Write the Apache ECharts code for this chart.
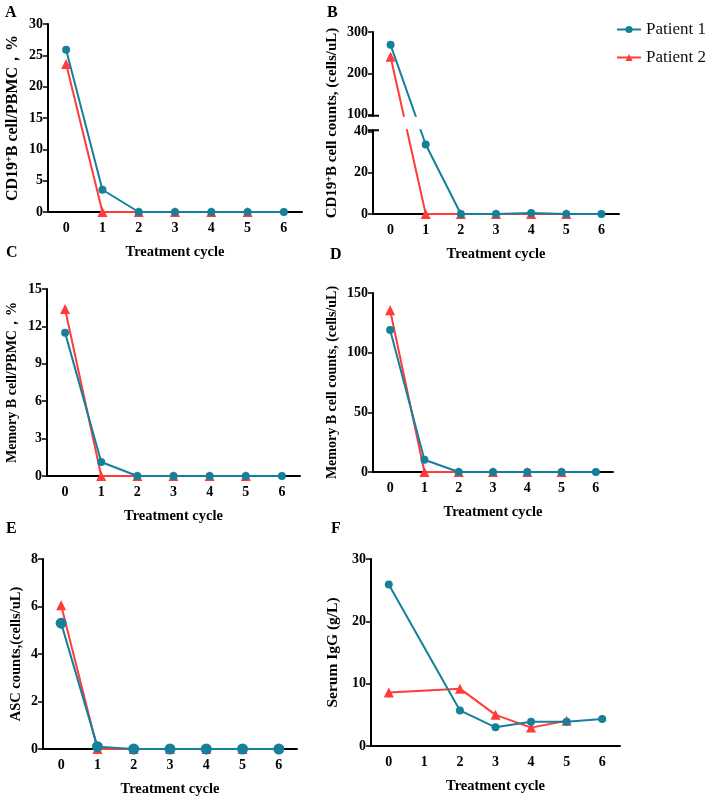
<!DOCTYPE html>
<html>
<head>
<meta charset="utf-8">
<script src="https://cdn.jsdelivr.net/npm/echarts@6/dist/echarts.min.js"></script>
<style>
  html, body { margin: 0; padding: 0; background: #fff; }
  #chart { width: 712px; height: 801px; }
</style>
</head>
<body>
<div id="chart"></div>
<script>
const cycles = ['0', '1', '2', '3', '4', '5', '6'];
const cd19Pct1 = [25.9, 3.55, 0, 0, 0, 0, 0];
const cd19Pct2 = [23.6, 0, 0, 0, 0, 0];
const cd19Count1 = [269, 33.6, 0, 0, 0.5, 0, 0];
const cd19Count2 = [240, 0, 0, 0, 0, 0];
const memPct1 = [11.5, 1.12, 0, 0, 0, 0, 0];
const memPct2 = [13.4, 0, 0, 0, 0, 0];
const memCount1 = [119, 10.3, 0, 0, 0, 0, 0];
const memCount2 = [135.5, 0, 0, 0, 0, 0];
const asc1 = [5.3, 0.1, 0, 0, 0, 0, 0];
const asc2 = [6.05, 0, 0, 0, 0, 0];
const igg1 = [25.9, null, 5.7, 3.0, 3.9, 3.9, 4.35];
const igg2 = [8.6, null, 9.2, 5.0, 2.95, 4.05];

const TEAL = '#14809a';
const RED = '#ff3b3b';
const font = '"Liberation Serif", "Times New Roman", serif';

// panel B has a broken axis: 0-40 at the bottom, 100-300 on top (5x compressed)
const breakLow = 40, breakHigh = 100, breakGap = 8, upperScale = 5;
function toDisp(v) {
  if (v == null) return null;
  return v <= breakLow ? v : breakLow + breakGap + (v - breakHigh) / upperScale;
}
function fromDisp(d) {
  return d <= breakLow ? d : Math.round((d - breakLow - breakGap) * upperScale + breakHigh);
}
const bTicks = [0, 20, 40, toDisp(100), toDisp(200), toDisp(300)];

const grids = [
  { left: 48, top: 24, width: 254, height: 188 },
  { left: 373, top: 32, width: 246, height: 182 },
  { left: 47, top: 289, width: 253, height: 187 },
  { left: 373, top: 293, width: 240, height: 179 },
  { left: 43, top: 559, width: 254, height: 190 },
  { left: 371, top: 559, width: 249, height: 187 }
];

const boldText = { color: '#000', fontWeight: 'bold', fontFamily: font };

function xAxis(i) {
  return {
    type: 'category',
    gridIndex: i,
    data: cycles,
    boundaryGap: true,
    axisLine: { lineStyle: { color: '#000', width: 2 } },
    axisTick: { alignWithLabel: true, length: 4, lineStyle: { color: '#000', width: 1.5 } },
    axisLabel: Object.assign({ fontSize: 14, margin: 9 }, boldText),
    name: 'Treatment cycle',
    nameLocation: 'middle',
    nameGap: 33,
    nameTextStyle: Object.assign({ fontSize: 14.5 }, boldText)
  };
}

function yAxis(i, name, max, interval, nameGap, nameSize, extra) {
  return Object.assign({
    type: 'value',
    gridIndex: i,
    min: 0,
    max: max,
    interval: interval,
    splitLine: { show: false },
    axisLine: { show: true, lineStyle: { color: '#000', width: 2 } },
    axisTick: { show: true, length: 5, lineStyle: { color: '#000', width: 1.5 } },
    axisLabel: Object.assign({ fontSize: 14, margin: 5 }, boldText),
    name: name,
    nameLocation: 'middle',
    nameGap: nameGap,
    nameTextStyle: Object.assign({
      fontSize: nameSize,
      rich: {
        sup: { fontSize: Math.round(nameSize * 0.65), fontWeight: 'bold', fontFamily: font, color: '#000', verticalAlign: 'top', padding: [0, 0, 7, 0] }
      }
    }, boldText)
  }, extra || {});
}

function pair(i, d1, d2, circleSize) {
  const base = { type: 'line', xAxisIndex: i, yAxisIndex: i, connectNulls: true, animation: false };
  return [
    Object.assign({}, base, {
      name: 'Patient 2', data: d2, symbol: 'triangle', symbolSize: 10,
      itemStyle: { color: RED }, lineStyle: { color: RED, width: 2 }
    }),
    Object.assign({}, base, {
      name: 'Patient 1', data: d1, symbol: 'circle', symbolSize: circleSize || 8,
      itemStyle: { color: TEAL }, lineStyle: { color: TEAL, width: 2 }
    })
  ];
}

const letters = [
  ['A', 5, 5], ['B', 327, 5], ['C', 6, 245], ['D', 330, 247], ['E', 6, 521], ['F', 331, 521]
];

const chart = echarts.init(document.getElementById('chart'));
chart.setOption({
  backgroundColor: '#fff',
  legend: {
    data: ['Patient 1', 'Patient 2'],
    orient: 'vertical',
    left: 611,
    top: 16,
    itemWidth: 24,
    itemHeight: 9,
    itemGap: 11,
    textStyle: { fontSize: 17, fontFamily: font, color: '#111' }
  },
  grid: grids,
  xAxis: [0, 1, 2, 3, 4, 5].map(xAxis),
  yAxis: [
    yAxis(0, 'CD19{sup|+}B cell/PBMC，%', 30, 5, 27, 16),
    yAxis(1, 'CD19{sup|+}B cell counts, (cells/uL)', toDisp(300), null, 32, 15, {
      interval: undefined,
      axisLabel: Object.assign({ fontSize: 14, margin: 5, customValues: bTicks, formatter: v => String(fromDisp(v)) }, boldText),
      axisTick: { show: true, length: 5, customValues: bTicks, lineStyle: { color: '#000', width: 1.5 } }
    }),
    yAxis(2, 'Memory B cell/PBMC，%', 15, 3, 28, 14),
    yAxis(3, 'Memory B cell counts, (cells/uL)', 150, 50, 34, 14),
    yAxis(4, 'ASC counts,(cells/uL)', 8, 2, 19, 14.5),
    yAxis(5, 'Serum IgG (g/L)', 30, 10, 30, 15.5)
  ],
  series: [].concat(
    pair(0, cd19Pct1, cd19Pct2),
    pair(1, cd19Count1.map(toDisp), cd19Count2.map(toDisp)),
    pair(2, memPct1, memPct2),
    pair(3, memCount1, memCount2),
    pair(4, asc1, asc2, 11),
    pair(5, igg1, igg2)
  )
});

// panel letters, and a white band hiding the break in panel B
const yLo = chart.convertToPixel({ yAxisIndex: 1 }, breakLow);
const yHi = chart.convertToPixel({ yAxisIndex: 1 }, toDisp(breakHigh));
const g = grids[1];
chart.setOption({
  graphic: letters.map(l => ({
    type: 'text', left: l[1], top: l[2],
    style: { text: l[0], fontSize: 16, fontWeight: 'bold', fontFamily: font, fill: '#000' }
  })).concat([{
    type: 'rect', z: 100,
    shape: { x: g.left - 3, y: yHi + 2, width: g.width, height: yLo - yHi - 4 },
    style: { fill: '#fff' }
  }, {
    type: 'line', z: 101,
    shape: { x1: g.left - 5, y1: yHi + 1, x2: g.left + 6, y2: yHi + 1 },
    style: { stroke: '#000', lineWidth: 2 }
  }, {
    type: 'line', z: 101,
    shape: { x1: g.left - 5, y1: yLo - 1, x2: g.left + 6, y2: yLo - 1 },
    style: { stroke: '#000', lineWidth: 2 }
  }])
});
</script>
</body>
</html>
